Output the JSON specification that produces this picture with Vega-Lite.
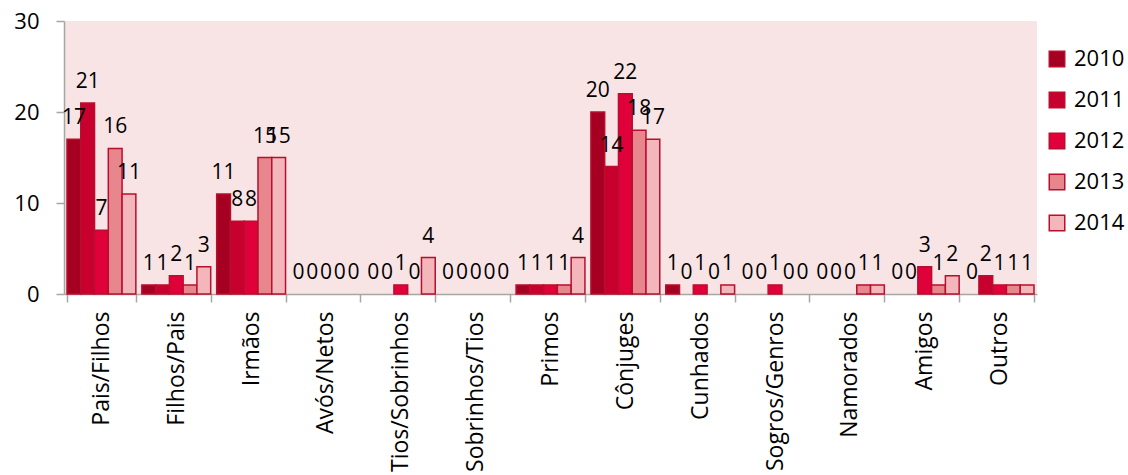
{
  "$schema": "https://vega.github.io/schema/vega-lite/v6.json",
  "autosize": {"type": "none"},
  "width": 973,
  "height": 273,
  "padding": {"left": 64, "top": 21, "right": 91, "bottom": 181},
  "background": "white",
  "config": {
    "font": "Open Sans",
    "view": {"fill": "#F9E4E5", "stroke": null}
  },
  "data": {
    "values": [
      {"cat": "Pais/Filhos", "year": "2010", "v": 17},
      {"cat": "Pais/Filhos", "year": "2011", "v": 21},
      {"cat": "Pais/Filhos", "year": "2012", "v": 7},
      {"cat": "Pais/Filhos", "year": "2013", "v": 16},
      {"cat": "Pais/Filhos", "year": "2014", "v": 11},
      {"cat": "Filhos/Pais", "year": "2010", "v": 1},
      {"cat": "Filhos/Pais", "year": "2011", "v": 1},
      {"cat": "Filhos/Pais", "year": "2012", "v": 2},
      {"cat": "Filhos/Pais", "year": "2013", "v": 1},
      {"cat": "Filhos/Pais", "year": "2014", "v": 3},
      {"cat": "Irmãos", "year": "2010", "v": 11},
      {"cat": "Irmãos", "year": "2011", "v": 8},
      {"cat": "Irmãos", "year": "2012", "v": 8},
      {"cat": "Irmãos", "year": "2013", "v": 15},
      {"cat": "Irmãos", "year": "2014", "v": 15},
      {"cat": "Avós/Netos", "year": "2010", "v": 0},
      {"cat": "Avós/Netos", "year": "2011", "v": 0},
      {"cat": "Avós/Netos", "year": "2012", "v": 0},
      {"cat": "Avós/Netos", "year": "2013", "v": 0},
      {"cat": "Avós/Netos", "year": "2014", "v": 0},
      {"cat": "Tios/Sobrinhos", "year": "2010", "v": 0},
      {"cat": "Tios/Sobrinhos", "year": "2011", "v": 0},
      {"cat": "Tios/Sobrinhos", "year": "2012", "v": 1},
      {"cat": "Tios/Sobrinhos", "year": "2013", "v": 0},
      {"cat": "Tios/Sobrinhos", "year": "2014", "v": 4},
      {"cat": "Sobrinhos/Tios", "year": "2010", "v": 0},
      {"cat": "Sobrinhos/Tios", "year": "2011", "v": 0},
      {"cat": "Sobrinhos/Tios", "year": "2012", "v": 0},
      {"cat": "Sobrinhos/Tios", "year": "2013", "v": 0},
      {"cat": "Sobrinhos/Tios", "year": "2014", "v": 0},
      {"cat": "Primos", "year": "2010", "v": 1},
      {"cat": "Primos", "year": "2011", "v": 1},
      {"cat": "Primos", "year": "2012", "v": 1},
      {"cat": "Primos", "year": "2013", "v": 1},
      {"cat": "Primos", "year": "2014", "v": 4},
      {"cat": "Cônjuges", "year": "2010", "v": 20},
      {"cat": "Cônjuges", "year": "2011", "v": 14},
      {"cat": "Cônjuges", "year": "2012", "v": 22},
      {"cat": "Cônjuges", "year": "2013", "v": 18},
      {"cat": "Cônjuges", "year": "2014", "v": 17},
      {"cat": "Cunhados", "year": "2010", "v": 1},
      {"cat": "Cunhados", "year": "2011", "v": 0},
      {"cat": "Cunhados", "year": "2012", "v": 1},
      {"cat": "Cunhados", "year": "2013", "v": 0},
      {"cat": "Cunhados", "year": "2014", "v": 1},
      {"cat": "Sogros/Genros", "year": "2010", "v": 0},
      {"cat": "Sogros/Genros", "year": "2011", "v": 0},
      {"cat": "Sogros/Genros", "year": "2012", "v": 1},
      {"cat": "Sogros/Genros", "year": "2013", "v": 0},
      {"cat": "Sogros/Genros", "year": "2014", "v": 0},
      {"cat": "Namorados", "year": "2010", "v": 0},
      {"cat": "Namorados", "year": "2011", "v": 0},
      {"cat": "Namorados", "year": "2012", "v": 0},
      {"cat": "Namorados", "year": "2013", "v": 1},
      {"cat": "Namorados", "year": "2014", "v": 1},
      {"cat": "Amigos", "year": "2010", "v": 0},
      {"cat": "Amigos", "year": "2011", "v": 0},
      {"cat": "Amigos", "year": "2012", "v": 3},
      {"cat": "Amigos", "year": "2013", "v": 1},
      {"cat": "Amigos", "year": "2014", "v": 2},
      {"cat": "Outros", "year": "2010", "v": 0},
      {"cat": "Outros", "year": "2011", "v": 2},
      {"cat": "Outros", "year": "2012", "v": 1},
      {"cat": "Outros", "year": "2013", "v": 1},
      {"cat": "Outros", "year": "2014", "v": 1}
    ]
  },
  "encoding": {
    "x": {
      "field": "cat",
      "type": "nominal",
      "sort": ["Pais/Filhos", "Filhos/Pais", "Irmãos", "Avós/Netos", "Tios/Sobrinhos", "Sobrinhos/Tios", "Primos", "Cônjuges", "Cunhados", "Sogros/Genros", "Namorados", "Amigos", "Outros"],
      "title": null,
      "scale": {"paddingInner": 0.08, "paddingOuter": 0.04},
      "axis": {
        "labelAngle": -90,
        "labelFontSize": 23,
        "labelColor": "#000000",
        "labelPadding": 9,
        "tickBand": "extent",
        "tickSize": 8,
        "tickColor": "#A6A6A6",
        "domainColor": "#A6A6A6",
        "tickWidth": 1.5,
        "domainWidth": 1.5
      }
    },
    "xOffset": {"field": "year", "type": "nominal", "scale": {"paddingInner": 0, "paddingOuter": 0}},
    "y": {
      "field": "v",
      "type": "quantitative",
      "title": null,
      "scale": {"domain": [0, 30]},
      "axis": {
        "values": [0, 10, 20, 30],
        "grid": false,
        "labelFontSize": 22,
        "labelColor": "#000000",
        "tickSize": 8,
        "tickColor": "#A6A6A6",
        "domainColor": "#A6A6A6",
        "tickWidth": 1.5,
        "domainWidth": 1.5,
        "labelPadding": 17
      }
    }
  },
  "layer": [
    {
      "transform": [{"filter": "datum.v > 0"}],
      "mark": {"type": "bar", "stroke": "#B80F2E", "strokeWidth": 1.5},
      "encoding": {
        "color": {
          "field": "year",
          "type": "nominal",
          "title": null,
          "scale": {
            "domain": ["2010", "2011", "2012", "2013", "2014"],
            "range": ["#A50021", "#C8002E", "#E0003A", "#E8868D", "#F2B6BB"]
          },
          "legend": {
            "orient": "none",
            "legendX": 982,
            "legendY": 27,
            "symbolType": "square",
            "symbolSize": 240,
            "symbolStrokeColor": "#B80F2E",
            "symbolStrokeWidth": 1.5,
            "labelFontSize": 22,
            "labelColor": "#000000",
            "rowPadding": 19,
            "labelOffset": 6
          }
        }
      }
    },
    {
      "mark": {"type": "text", "baseline": "bottom", "dy": -11, "fontSize": 21, "color": "#000000"},
      "encoding": {"text": {"field": "v", "type": "quantitative"}}
    }
  ]
}
